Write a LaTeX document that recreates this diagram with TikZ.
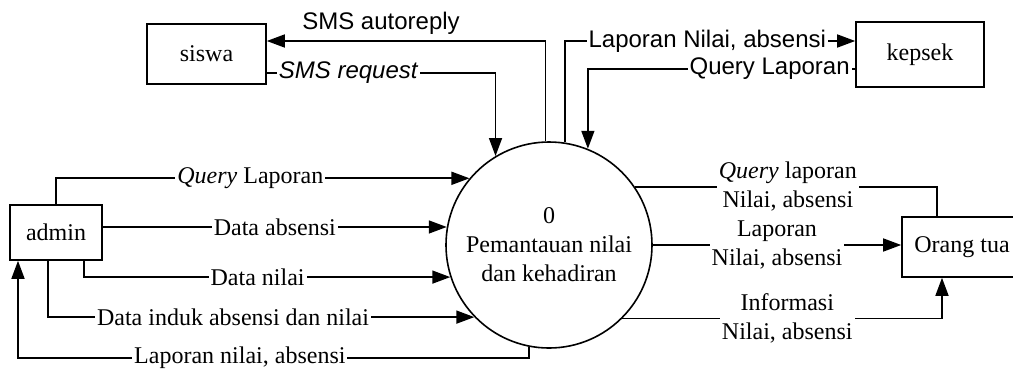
\documentclass[tikz,border=0pt]{standalone}
\usepackage{fontspec}
\setmainfont{Liberation Serif}
\setsansfont{Liberation Sans}
\usetikzlibrary{arrows.meta, positioning}

\begin{document}
\begin{tikzpicture}[x=0.5pt, y=-0.5pt, line width=0.8pt,
    font=\fontsize{12pt}{14.5pt}\selectfont,
    entity/.style={rectangle, draw, fill=white, align=center},
    process/.style={circle, draw, fill=white, minimum size=103pt, inner sep=0pt, align=center},
    flow/.style={-{Triangle[length=9pt, width=6.5pt]}},
    lbl/.style={fill=white, inner sep=1pt, align=center}]

    \useasboundingbox (0,0) rectangle (1013,371);

    % Entities and process
    \node[process] (proc) at (549,245) {0\\Pemantauan nilai\\dan kehadiran};
    \node[entity, minimum width=59.5pt, minimum height=30pt] (siswa) at (206.5,54) {siswa};
    \node[entity, minimum width=64pt, minimum height=32.5pt] (kepsek) at (920,54.5) {kepsek};
    \node[entity, minimum width=46pt, minimum height=27.5pt] (admin) at (56,232.5) {admin};
    \node[entity, minimum width=60pt, minimum height=30pt] (ortu) at (962,247) {Orang tua};

    % siswa
    \draw[flow] (proc.92.8) |- node[pos=0.795, above=2pt, inner sep=1pt] {\sffamily SMS autoreply} ([yshift=6.5pt]siswa.east);
    \draw[flow] ([yshift=-9.5pt]siswa.east) -| node[lbl, pos=0.178] {\sffamily\itshape SMS request} (proc.121);

    % kepsek
    \draw[flow] (proc.81.6) |- node[lbl, pos=0.745] {\sffamily Laporan Nilai, absensi} ([yshift=6.75pt]kepsek.west);
    \draw[flow] ([yshift=-7.25pt]kepsek.west) -| node[lbl, pos=0.16] {\sffamily Query Laporan} (proc.68.3);

    % admin
    \draw[flow] (admin.north) |- node[lbl, pos=0.735] {\textit{Query} Laporan} (proc.140.9);
    \draw[flow] (admin.east |- proc.170.5) -- node[lbl] {Data absensi} (proc.170.5);
    \draw[flow] ([xshift=14pt]admin.south) |- node[lbl, pos=0.737] {Data nilai} (proc.198.1);
    \draw[flow] ([xshift=-4pt]admin.south) |- node[lbl, pos=0.717] {Data induk absensi dan nilai} (proc.224.4);
    \draw[flow] (proc.259.4) -- ++(0,11) -| node[lbl, pos=0.283] {Laporan nilai, absensi} ([xshift=-19pt]admin.south);

    % Orang tua
    \draw (proc.34.9) -| node[lbl, pos=0.253] {\textit{Query} laporan\\Nilai, absensi} ([xshift=-12.5pt]ortu.north);
    \draw[flow] (proc.east) -- node[lbl] {Laporan\\Nilai, absensi} (proc.east -| ortu.west);
    \draw[flow] (proc.315.6) -| node[lbl, pos=0.258] {Informasi\\Nilai, absensi} ([xshift=-10pt]ortu.south);
\end{tikzpicture}
\end{document}
